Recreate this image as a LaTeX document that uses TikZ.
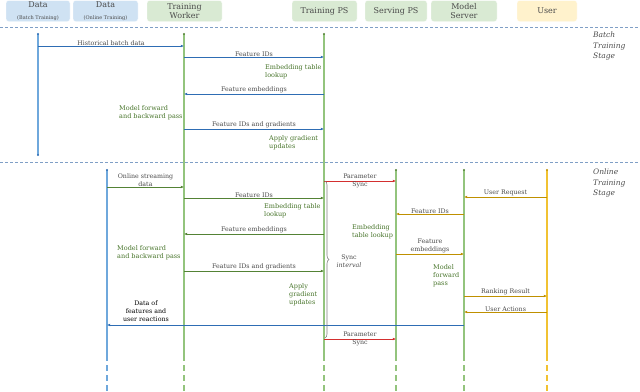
\documentclass[tikz,border=0pt]{standalone}
\usepackage{fontspec}
\setmainfont{DejaVu Serif}
\usetikzlibrary{arrows.meta,decorations.pathreplacing}
\definecolor{hblue}{HTML}{CFE2F3}
\definecolor{hgreen}{HTML}{D9EAD3}
\definecolor{hyellow}{HTML}{FFF2CC}
\definecolor{lblue}{HTML}{6FA8DC}
\definecolor{lgreen}{HTML}{93C47D}
\definecolor{lgold}{HTML}{F1C232}
\definecolor{ablue}{HTML}{2E6DB4}
\definecolor{agreen}{HTML}{548235}
\definecolor{agold}{HTML}{BF9000}
\definecolor{ared}{HTML}{D32F2F}
\definecolor{tgray}{HTML}{4A4A4A}
\definecolor{tgreen}{HTML}{47742A}
\definecolor{sepc}{HTML}{7F9FC6}
\begin{document}
\begin{tikzpicture}[x=1pt,y=-1pt,
  hdr/.style={rounded corners=2.5pt,draw=white,text=tgray,align=center,inner sep=0pt},
  hfont/.style={font=\fontsize{8}{8.5}\selectfont},
  lbl/.style={text=tgray,font=\fontsize{6.3}{8}\selectfont,align=center,inner sep=0.5pt},
  gtext/.style={text=tgreen,font=\fontsize{6.5}{8}\selectfont,align=left,inner sep=0pt,anchor=west},
  stage/.style={text=tgray,font=\fontsize{7.5}{10.5}\selectfont\itshape,align=left,inner sep=0pt,anchor=north west},
  life/.style={line width=1.1pt},
  dash life/.style={line width=1.1pt,dash pattern=on 6pt off 4pt},
  msg/.style={line width=0.8pt,-{Latex[length=3.2pt,width=2.8pt]}},
  sep/.style={draw=sepc,line width=0.8pt,dash pattern=on 3pt off 2pt},
  dot/.style={circle,inner sep=0pt,minimum size=2.4pt}
]
\useasboundingbox (0,0) rectangle (640,391);
% headers
\node[hdr,fill=hblue,minimum width=64pt,minimum height=21pt] (hDB) at (38,11) {\fontsize{8}{8}\selectfont Data\\[-0.5pt]\fontsize{5}{6}\selectfont (Batch Training)};
\node[hdr,fill=hblue,minimum width=65pt,minimum height=21pt] (hDO) at (105.5,11) {\fontsize{8}{8}\selectfont Data\\[-0.5pt]\fontsize{5}{6}\selectfont (Online Training)};
\node[hdr,hfont,fill=hgreen,minimum width=75pt,minimum height=21pt] (hTW) at (184.5,11) {Training\\Worker};
\node[hdr,hfont,fill=hgreen,minimum width=65pt,minimum height=21pt] (hTP) at (324.5,11) {Training PS};
\node[hdr,hfont,fill=hgreen,minimum width=62pt,minimum height=21pt] (hSP) at (396,11) {Serving PS};
\node[hdr,hfont,fill=hgreen,minimum width=66pt,minimum height=21pt] (hMS) at (464,11) {Model\\Server};
\node[hdr,hfont,fill=hyellow,minimum width=60pt,minimum height=21pt] (hUS) at (547,11) {User};
% separators
\coordinate (s1a) at (0,27); \coordinate (s1b) at (640,27);
\coordinate (s2a) at (0,162); \coordinate (s2b) at (640,162);
\draw[sep] (s1a) -- (s1b);
\draw[sep] (s2a) -- (s2b);
% lifeline coordinates
\coordinate (DB) at (38,34);  \coordinate (DBe) at (38,155);
\coordinate (TW) at (184,34); \coordinate (TP) at (324,34);
\coordinate (DO) at (107,170); \coordinate (SP) at (396,170);
\coordinate (MS) at (464,170); \coordinate (US) at (547,170);
% lifelines
\draw[life,lblue] (DB) -- (DBe);
\node[dot,fill=ablue] (dDB) at (DB) {};
\node[dot,fill=ablue] (dDBe) at (DBe) {};
\foreach \c/\col in {TW/lgreen,TP/lgreen} {
  \draw[life,\col] (\c) -- (\c |- 0,355);
  \draw[dash life,\col] (\c |- 0,355) -- (\c |- 0,391);
  \node[dot,fill=agreen] at (\c) {};
}
\foreach \c/\col/\dc in {DO/lblue/ablue,SP/lgreen/agreen,MS/lgreen/agreen,US/lgold/agold} {
  \draw[life,\col] (\c) -- (\c |- 0,355);
  \draw[dash life,\col] (\c |- 0,355) -- (\c |- 0,391);
  \node[dot,fill=\dc] at (\c) {};
}
% stage labels
\node[stage] (stB) at (593,32) {Batch\\Training\\Stage};
\node[stage] (stO) at (593,169) {Online\\Training\\Stage};
% batch messages
\draw[msg,ablue] (DB |- 0,46) -- node[lbl,above] (m1) {Historical batch data} (TW |- 0,46);
\draw[msg,ablue] (TW |- 0,57) -- node[lbl,above] (m2) {Feature IDs} (TP |- 0,57);
\draw[msg,ablue] (TP |- 0,94) -- node[lbl,above] (m3) {Feature embeddings} (TW |- 0,94);
\draw[msg,ablue] (TW |- 0,129) -- node[lbl,above] (m4) {Feature IDs and gradients} (TP |- 0,129);
\node[gtext] (g1) at (265,72) {Embedding table\\lookup};
\node[gtext] (g2) at (119,112.5) {Model forward\\and backward pass};
\node[gtext] (g3) at (269,143) {Apply gradient\\updates};
% online messages
\draw[msg,agreen] (DO |- 0,187) -- node[lbl,above] (m5) {Online streaming\\data} (TW |- 0,187);
\draw[msg,agreen] (TW |- 0,198) -- node[lbl,above] (m6) {Feature IDs} (TP |- 0,198);
\draw[msg,agreen] (TP |- 0,234) -- node[lbl,above] (m7) {Feature embeddings} (TW |- 0,234);
\draw[msg,agreen] (TW |- 0,271) -- node[lbl,above] (m8) {Feature IDs and gradients} (TP |- 0,271);
\draw[msg,ared] (TP |- 0,181) -- node[lbl] (m9) {Parameter\\Sync} (SP |- 0,181);
\draw[msg,ared] (TP |- 0,339) -- node[lbl] (m10) {Parameter\\Sync} (SP |- 0,339);
\draw[msg,agold] (US |- 0,197) -- node[lbl,above] (m11) {User Request} (MS |- 0,197);
\draw[msg,agold] (MS |- 0,214) -- node[lbl,above] (m12) {Feature IDs} (SP |- 0,214);
\draw[msg,agold] (SP |- 0,254) -- node[lbl,above] (m13) {Feature\\embeddings} (MS |- 0,254);
\draw[msg,agold] (MS |- 0,296) -- node[lbl,above] (m14) {Ranking Result} (US |- 0,296);
\draw[msg,agold] (US |- 0,312) -- node[lbl,above] (m15) {User Actions} (MS |- 0,312);
\draw[msg,ablue] (MS |- 0,325) -- (DO |- 0,325);
\node[lbl,text=black,anchor=south] (m16) at (146,322) {Data of\\features and\\user reactions};
\node[gtext] (g4) at (264,211) {Embedding table\\lookup};
\node[gtext] (g5) at (117,253) {Model forward\\and backward pass};
\node[gtext] (g6) at (289,295) {Apply\\gradient\\updates};
\node[gtext] (g7) at (352,232) {Embedding\\table lookup};
\node[gtext] (g8) at (433,276) {Model\\forward\\pass};
% brace
\coordinate (bt) at (325,181); \coordinate (bb) at (325,338);
\draw[gray,line width=0.6pt,decorate,decoration={brace,amplitude=4pt}] (bt) -- (bb);
\node[lbl] (si) at (349,261) {Sync\\\textit{interval}};
\end{tikzpicture}
\end{document}
